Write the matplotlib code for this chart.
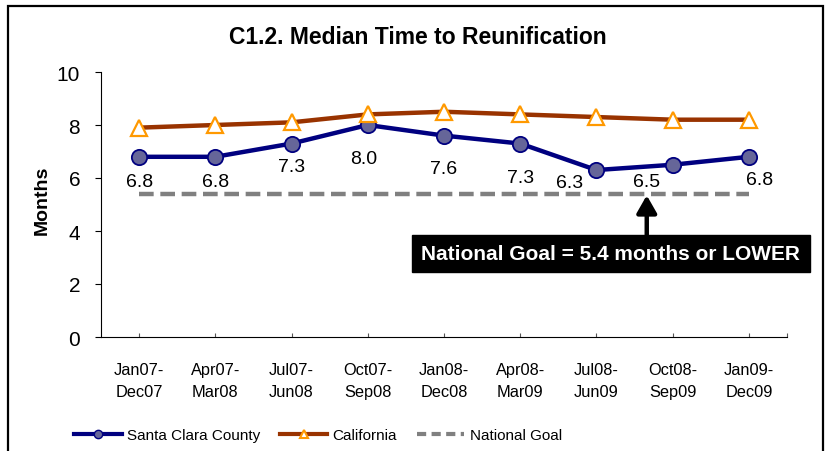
import matplotlib
matplotlib.use("Agg")
import numpy as np
import matplotlib.pyplot as plt
from matplotlib.lines import Line2D
from matplotlib.patches import Rectangle

plt.rcParams['font.family'] = ['Liberation Sans', 'DejaVu Sans']

# data
periods = ["Jan07-\nDec07", "Apr07-\nMar08", "Jul07-\nJun08", "Oct07-\nSep08",
           "Jan08-\nDec08", "Apr08-\nMar09", "Jul08-\nJun09", "Oct08-\nSep09",
           "Jan09-\nDec09"]
santaclara = [6.8, 6.8, 7.3, 8.0, 7.6, 7.3, 6.3, 6.5, 6.8]
california = [7.9, 8.0, 8.1, 8.4, 8.5, 8.4, 8.3, 8.2, 8.2]
goal = [5.4] * 9
yticks = [0, 2, 4, 6, 8, 10]

# label offsets in points (style only)
labeloffsets = [(0, -18), (0, -18), (0, -16.5), (-3, -24), (0, -24),
                (0, -24.5), (-19, -9), (-19, -12), (8, -16)]

navy = '#000080'
brown = '#993300'
orange = '#FF9900'
grey = '#808080'

fig = plt.figure(figsize=(8.26, 4.52), dpi=100)
ax = fig.add_axes([101/826, 1-338/452, 686/826, 265/452])
x = np.arange(len(periods))

goalline, = ax.plot(x, goal, color=grey, lw=3.2, solid_capstyle='butt')
goalline.set_dashes([3.3, 1.5])
ax.plot(x, santaclara, color=navy, lw=3.2, marker='o', markersize=11,
        markerfacecolor='#666699', markeredgecolor=navy, markeredgewidth=1.3, zorder=3)
ax.plot(x, california, color=brown, lw=3.2, marker='^', markersize=11,
        markerfacecolor='white', markeredgecolor=orange, markeredgewidth=1.6, zorder=4)

for xi, v, off in zip(x, santaclara, labeloffsets):
    ax.annotate("%.1f" % v, (xi, v), xytext=off, textcoords='offset points',
                ha='center', va='center', fontsize=14)

ax.set_xlim(-0.5, 8.5)
ax.set_ylim(0, 10)
ax.set_yticks(yticks)
ax.tick_params(axis='y', direction='out', length=4, width=0.8, pad=11, labelsize=15)
ax.set_xticks(list(x) + [8.5])
ax.set_xticklabels(periods + [""], fontsize=11.8, linespacing=1.6)
ax.tick_params(axis='x', direction='in', length=3, width=0.8, pad=18, colors='#555555',
               labelcolor='black')
ax.spines['top'].set_visible(False)
ax.spines['right'].set_visible(False)

fig.text(0.506, 1-37/452, "C1.2. Median Time to Reunification", ha='center', va='center',
         fontsize=16.5, fontweight='bold')
fig.text(42/826, 1-200/452, "Months", rotation=90, ha='center', va='center',
         fontsize=14, fontweight='bold')

# national goal callout
ax.annotate('', xy=(6.66, 5.45), xytext=(6.66, 3.75),
            arrowprops=dict(arrowstyle='-|>,head_length=0.7,head_width=0.4', lw=3.2,
                            mutation_scale=15, color='black'))
ax.text(6.19, 3.15, "National Goal = 5.4 months or LOWER", ha='center', va='center',
        color='white', fontsize=15, fontweight='bold',
        bbox=dict(boxstyle='square,pad=0.45', fc='black', ec='black'))

handles = [
    Line2D([], [], color=navy, lw=3, marker='o', markersize=6,
           markerfacecolor='#666699', markeredgecolor=navy),
    Line2D([], [], color=brown, lw=3, marker='^', markersize=6,
           markerfacecolor='white', markeredgecolor=orange, markeredgewidth=1.5),
    Line2D([], [], color=grey, lw=3, dashes=[2.2, 1.3]),
]
fig.legend(handles, ["Santa Clara County", "California", "National Goal"],
           loc='center', bbox_to_anchor=(318/826, 1-436/452), ncol=3, frameon=False,
           fontsize=11, handlelength=3.1, handletextpad=0.35, columnspacing=1.3)

fig.patches.append(Rectangle((8/826, -0.05), 815/826, 1.05-7/452, transform=fig.transFigure,
                             fill=False, ec='black', lw=1.6))

fig.savefig("out.png", dpi=100)
